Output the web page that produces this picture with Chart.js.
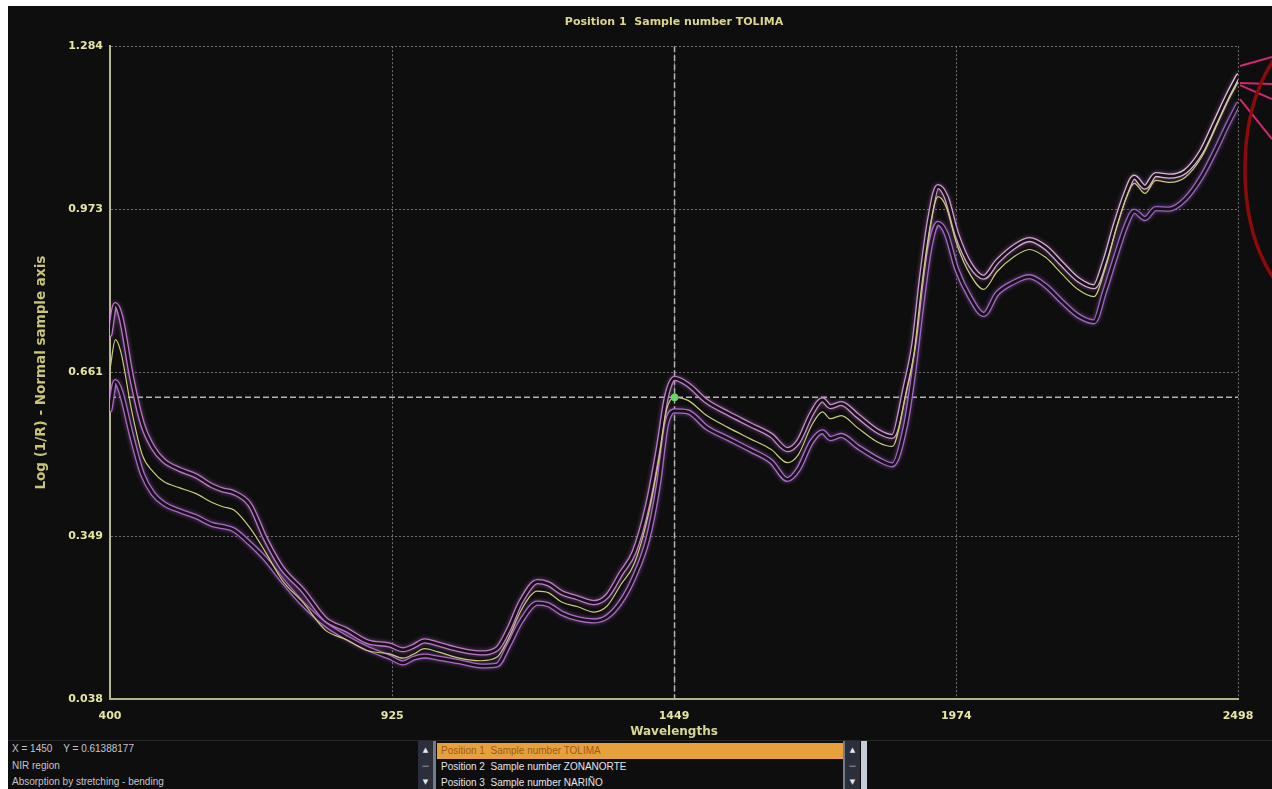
<!DOCTYPE html>
<html>
<head>
<meta charset="utf-8">
<title>NIR spectra</title>
<script src="https://cdn.jsdelivr.net/npm/chart.js@4.4.1/dist/chart.umd.min.js"></script>
<style>
  html, body { margin: 0; padding: 0; background: #ffffff; width: 1272px; height: 789px; overflow: hidden; }
  #app { position: absolute; left: 8px; top: 6px; width: 1264px; height: 783px; background: #0e0e0e; overflow: hidden; }
  #plot { position: absolute; left: 0; top: 0; }
  #panel { position: absolute; left: 0; top: 734px; width: 1264px; height: 49px; border-top: 1px solid #282828;
           font-family: "Liberation Sans", Arial, sans-serif; font-size: 10px; }
  .info { position: absolute; left: 4px; height: 14px; line-height: 14px; color: #c4c4cc; white-space: pre; }
  .strip { position: absolute; top: 0; width: 15px; height: 49px; background: #2a2f3a; border-right: 3px solid #737b8c; }
  .strip div { position: absolute; left: 0; width: 15px; height: 16px; line-height: 16px; text-align: center;
               color: #e6e8f0; font-family: "DejaVu Sans", sans-serif; font-size: 7px; }
  #list { position: absolute; left: 429px; top: 2px; width: 406px; }
  .row { height: 16px; line-height: 16px; padding-left: 4px; color: #e4e4e8; white-space: pre; }
  .row.sel { background: #e6a03c; color: #9c5c18; }
  #edge { position: absolute; left: 853px; top: 0; width: 6px; height: 49px; background: #c6ccd9; }
</style>
</head>
<body>
<div id="app">
  <canvas id="plot" width="1264" height="734"></canvas>
  <div id="panel">
    <div class="info" id="readout" style="top:1px"></div>
    <div class="info" id="region" style="top:18px"></div>
    <div class="info" id="band" style="top:34px"></div>
    <div class="strip" style="left:410px"><div style="top:1px">▲</div><div style="top:17px">—</div><div style="top:33px">▼</div></div>
    <div id="list"></div>
    <div class="strip" style="left:835px;border-right:none;border-left:2px solid #737b8c"><div style="top:1px">▲</div><div style="top:17px">—</div><div style="top:33px">▼</div></div>
    <div id="edge"></div>
  </div>
</div>
<script>
// Wavelength grid (nm) shared by the three spectra
const wavelengths = [400,410,420,440,460,480,500,530,560,590,
  610,630,660,690,720,760,800,840,880,920,
  945,965,985,1010,1050,1090,1120,1140,1165,1195,
  1215,1240,1270,1300,1325,1350,1375,1400,1420,1435,
  1450,1475,1510,1550,1590,1630,1660,1680,1705,1725,
  1740,1760,1790,1830,1855,1880,1895,1910,1925,1940,
  1955,1975,2000,2025,2050,2080,2110,2140,2170,2200,
  2230,2250,2270,2290,2305,2325,2345,2370,2400,2430,
  2455,2480,2498];

// Log(1/R) per sample
const tolima = [0.667,0.724,0.701,0.590,0.504,0.472,0.453,0.441,0.430,0.413,
  0.405,0.399,0.365,0.317,0.265,0.221,0.170,0.151,0.130,0.124,
  0.116,0.124,0.134,0.128,0.116,0.111,0.118,0.151,0.208,0.244,
  0.241,0.223,0.214,0.204,0.216,0.256,0.296,0.384,0.491,0.590,
  0.6139,0.608,0.579,0.556,0.535,0.514,0.489,0.504,0.560,0.586,
  0.573,0.579,0.556,0.527,0.520,0.619,0.695,0.829,0.938,0.997,
  0.978,0.906,0.848,0.820,0.854,0.881,0.896,0.881,0.850,0.820,
  0.806,0.856,0.930,0.994,1.022,1.003,1.028,1.024,1.034,1.072,
  1.125,1.181,1.215];

const zonanorte = [0.734,0.791,0.768,0.653,0.564,0.518,0.493,0.476,0.464,0.445,
  0.437,0.432,0.409,0.342,0.288,0.244,0.191,0.170,0.147,0.141,
  0.132,0.139,0.149,0.143,0.132,0.126,0.134,0.168,0.225,0.262,
  0.258,0.241,0.231,0.222,0.235,0.277,0.319,0.409,0.518,0.615,
  0.650,0.638,0.606,0.583,0.562,0.541,0.514,0.529,0.583,0.609,
  0.596,0.602,0.579,0.548,0.539,0.638,0.715,0.848,0.957,1.016,
  0.997,0.925,0.867,0.843,0.873,0.900,0.915,0.900,0.869,0.839,
  0.825,0.873,0.944,1.005,1.034,1.015,1.039,1.036,1.045,1.083,
  1.137,1.192,1.227];

const narino = [0.590,0.644,0.625,0.541,0.468,0.430,0.411,0.397,0.386,0.371,
  0.367,0.361,0.335,0.304,0.265,0.218,0.181,0.155,0.134,0.118,
  0.107,0.116,0.120,0.116,0.109,0.101,0.103,0.137,0.187,0.221,
  0.218,0.202,0.191,0.187,0.195,0.223,0.271,0.342,0.447,0.562,
  0.588,0.586,0.556,0.535,0.514,0.491,0.457,0.476,0.529,0.548,
  0.535,0.541,0.520,0.495,0.485,0.562,0.663,0.791,0.900,0.946,
  0.927,0.858,0.804,0.772,0.812,0.833,0.844,0.827,0.797,0.770,
  0.758,0.816,0.881,0.942,0.969,0.955,0.974,0.973,0.992,1.034,
  1.083,1.137,1.173];

const xTicks = [400, 925, 1449, 1974, 2498];
const yTicks = [0.038, 0.349, 0.661, 0.973, 1.284];

const sampleNames = ['Position 1  Sample number TOLIMA',
                     'Position 2  Sample number ZONANORTE',
                     'Position 3  Sample number NARIÑO'];

// Cursor readout
const cursorX = 1450;
const cursorY = 0.61388177;
const regionText = 'NIR region';
const bandText = 'Absorption by stretching - bending';

// ---- bottom info panel ----
document.getElementById('readout').textContent = 'X = ' + cursorX + '    Y = ' + cursorY;
document.getElementById('region').textContent = regionText;
document.getElementById('band').textContent = bandText;
const list = document.getElementById('list');
sampleNames.forEach((n, i) => {
  const r = document.createElement('div');
  r.className = 'row' + (i === 0 ? ' sel' : '');
  r.textContent = n;
  list.appendChild(r);
});

// ---- chart ----
const pts = arr => wavelengths.map((w, i) => ({ x: w, y: arr[i] }));

function sweep(stops) {
  return ctx => {
    const c = ctx.chart, a = c.chartArea;
    if (!a) return stops[0][1];
    const g = c.ctx.createLinearGradient(a.left, 0, a.right, 0);
    stops.forEach(s => g.addColorStop(s[0], s[1]));
    return g;
  };
}

const coreColor = '#150f16';
const upperTube = sweep([[0, '#b872c4'], [0.5, '#c07cc8'], [0.75, '#cc9cc8'], [1, '#dcc4d2']]);
const lowerTube = sweep([[0, '#a866c0'], [0.6, '#a86cc4'], [1, '#8e62b8']]);

const lineBase = { parsing: false, pointRadius: 0, fill: false, cubicInterpolationMode: 'monotone', borderCapStyle: 'round', borderJoinStyle: 'round' };

// soft glow on the spectra strokes
const glowPlugin = {
  id: 'glow',
  beforeDatasetDraw(chart, args) {
    const ds = chart.data.datasets[args.index];
    if (!ds.glow) return;
    chart.ctx.save();
    chart.ctx.shadowColor = ds.glow;
    chart.ctx.shadowBlur = 4;
  },
  afterDatasetDraw(chart, args) {
    const ds = chart.data.datasets[args.index];
    if (!ds.glow) return;
    chart.ctx.restore();
  }
};

const cursorPlugin = {
  id: 'cursor',
  beforeDatasetsDraw(chart) {
    const { ctx, chartArea: a, scales: { x, y } } = chart;
    const px = x.getPixelForValue(cursorX), py = y.getPixelForValue(cursorY);
    ctx.save();
    ctx.beginPath(); ctx.rect(a.left, a.top, a.width, a.height); ctx.clip();
    ctx.strokeStyle = '#b4b4b4'; ctx.lineWidth = 1.5; ctx.setLineDash([6, 3]);
    ctx.beginPath();
    ctx.moveTo(px, a.top); ctx.lineTo(px, a.bottom);
    ctx.moveTo(a.left, py); ctx.lineTo(a.right, py);
    ctx.stroke();
    ctx.restore();
  }
};

// hand-drawn highlight next to the long-wavelength end
const markupPlugin = {
  id: 'markup',
  afterDraw(chart) {
    const { ctx, chartArea: a, width, scales: { y } } = chart;
    const yEnd = y.getPixelForValue(zonanorte[zonanorte.length - 1]);
    const x0 = a.right + 2;
    ctx.save();
    ctx.strokeStyle = '#d2286f'; ctx.lineWidth = 2;
    [[-10, -19], [7, 8], [9, 23], [23, 63]].forEach(([s, e]) => {
      ctx.beginPath(); ctx.moveTo(x0, yEnd + s); ctx.lineTo(width, yEnd + e); ctx.stroke();
    });
    ctx.strokeStyle = '#8c0a0a'; ctx.lineWidth = 3.5;
    ctx.beginPath();
    ctx.ellipse(a.right + 77, a.top + 123, 70, 135, 0, 0, Math.PI * 2);
    ctx.stroke();
    ctx.restore();
  }
};

const tickFont = { family: 'DejaVu Sans', weight: 'bold', size: 11 };

new Chart(document.getElementById('plot'), {
  type: 'line',
  data: {
    datasets: [
      { type: 'scatter', data: [{ x: cursorX, y: cursorY }], pointRadius: 3.5, pointBackgroundColor: '#62d862', pointBorderColor: '#62d862', order: 0 },
      { ...lineBase, label: sampleNames[0], data: pts(tolima), borderColor: '#c8cc78', borderWidth: 1.2, order: 1 },
      { ...lineBase, data: pts(zonanorte), borderColor: coreColor, borderWidth: 2.6, order: 2 },
      { ...lineBase, label: sampleNames[1], data: pts(zonanorte), borderColor: upperTube, borderWidth: 5.2, order: 3, glow: 'rgba(190,110,210,0.55)' },
      { ...lineBase, data: pts(narino), borderColor: coreColor, borderWidth: 2.6, order: 4 },
      { ...lineBase, label: sampleNames[2], data: pts(narino), borderColor: lowerTube, borderWidth: 5.2, order: 5, glow: 'rgba(170,100,210,0.55)' }
    ]
  },
  options: {
    responsive: false,
    devicePixelRatio: 1,
    animation: false,
    events: [],
    layout: { padding: { left: 0, right: 34, top: 0, bottom: 0 } },
    plugins: {
      legend: { display: false },
      tooltip: { enabled: false },
      title: {
        display: true, fullSize: false,
        text: sampleNames[0],
        color: '#dcd68a',
        font: { family: 'DejaVu Sans', weight: 'bold', size: 11 },
        padding: { top: 10, bottom: 17 }
      }
    },
    scales: {
      x: {
        type: 'linear', min: 400, max: 2498,
        afterBuildTicks: s => { s.ticks = xTicks.map(v => ({ value: v })); },
        afterFit: s => { s.height = 41; },
        grid: { color: '#707070', lineWidth: 1, drawTicks: false },
        border: { display: true, color: '#b4b48c', width: 2, dash: [2, 2] },
        ticks: { color: '#e6e6a0', font: tickFont, padding: 11, maxRotation: 0, callback: v => String(v) },
        title: { display: true, text: 'Wavelengths', color: '#d8d890',
                 font: { family: 'DejaVu Sans', weight: 'bold', size: 12 }, padding: { top: 0, bottom: 1 } }
      },
      y: {
        type: 'linear', min: 0.038, max: 1.284,
        afterBuildTicks: s => { s.ticks = yTicks.map(v => ({ value: v })); },
        afterFit: s => { s.width = 102; },
        grid: { color: '#707070', lineWidth: 1, drawTicks: false },
        border: { display: true, color: '#b8b890', width: 2, dash: [2, 2] },
        ticks: { color: '#e6e6a0', font: tickFont, padding: 7, callback: v => v.toFixed(3) },
        title: { display: true, text: 'Log (1/R) - Normal sample axis', color: '#c8c478',
                 font: { family: 'DejaVu Sans', weight: 'bold', size: 13.5 }, padding: { top: 25, bottom: 0 } }
      }
    }
  },
  plugins: [glowPlugin, cursorPlugin, markupPlugin]
});
</script>
</body>
</html>
